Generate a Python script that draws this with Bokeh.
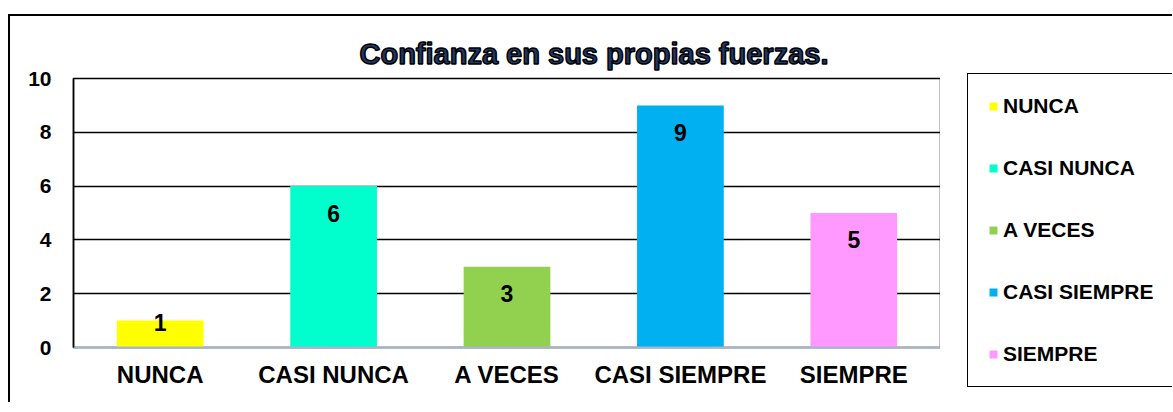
from bokeh.plotting import figure
from bokeh.models import ColumnDataSource, FixedTicker, Legend, LegendItem
from bokeh.core.properties import value
from bokeh.embed import file_html
from bokeh.resources import INLINE

categories = ["NUNCA", "CASI NUNCA", "A VECES", "CASI SIEMPRE", "SIEMPRE"]
counts = [1, 6, 3, 9, 5]
colors = ["#FFFF00", "#00FFCC", "#92D050", "#00B0F0", "#FF99FF"]
y_ticks = [0, 2, 4, 6, 8, 10]
title_text = "Confianza en sus propias fuerzas."

FONT = "Liberation Sans"

label_y = [v - 1 if v > 1 else v * 0.93 for v in counts]
src = ColumnDataSource(dict(cat=categories, val=counts, col=colors,
                            ly=label_y, txt=[str(v) for v in counts]))

p = figure(x_range=categories, y_range=(0, 10), width=932, height=388,
           output_backend="svg", toolbar_location=None,
           min_border_left=63, min_border_right=2,
           min_border_top=62, min_border_bottom=57)
p.styles = {"border-left": "2px solid black", "border-top": "2px solid black",
            "margin-top": "14px", "margin-left": "8px"}

p.title.text = title_text
p.title.text_font = FONT
p.title.text_font_size = "29px"
p.title.text_font_style = "bold"
p.title.text_color = "#1F3864"
p.title.align = "left"
p.title.offset = 286
p.title.standoff = 18
try:
    p.title.text_outline_color = "black"
except Exception:
    pass

p.outline_line_color = "black"
p.outline_line_width = 1.5
p.outline_line_alpha = 1
p.background_fill_color = "white"
p.border_fill_color = "white"

p.vbar(x="cat", top="val", width=0.5, source=src, fill_color="col",
       line_color=None)

p.text(x="cat", y="ly", text="txt", source=src, text_align="center",
       text_baseline="middle", text_font=value(FONT), text_font_size="23px",
       text_font_style="bold", text_color="black")

p.xgrid.grid_line_color = None
p.ygrid.grid_line_color = "black"
p.ygrid.grid_line_width = 1.5
p.yaxis.ticker = FixedTicker(ticks=y_ticks)
p.yaxis.major_tick_line_color = None
p.yaxis.minor_tick_line_color = None
p.yaxis.axis_line_color = "black"
p.yaxis.axis_line_width = 1.5
p.yaxis.major_label_standoff = 16
p.yaxis.major_label_text_font = FONT
p.yaxis.major_label_text_font_size = "21px"
p.yaxis.major_label_text_font_style = "bold"
p.yaxis.major_label_text_color = "black"

p.xaxis.major_tick_line_color = None
p.xaxis.minor_tick_line_color = None
p.xaxis.axis_line_color = "#A8B4CC"
p.xaxis.axis_line_width = 2
p.xaxis.major_label_standoff = 7
p.xaxis.major_label_text_font = FONT
p.xaxis.major_label_text_font_size = "24px"
p.xaxis.major_label_text_font_style = "bold"
p.xaxis.major_label_text_color = "black"

# legend panel (separate root, positioned to the right of the chart)
q = figure(x_range=(0, 1), y_range=(0, 1), width=234, height=388,
           output_backend="svg", toolbar_location=None,
           x_axis_location=None, y_axis_location=None, title=None,
           min_border_left=0, min_border_right=0,
           min_border_top=0, min_border_bottom=0)
q.styles = {"position": "absolute", "left": "938px", "top": "14px",
            "border-top": "2px solid black"}
q.grid.grid_line_color = None
q.outline_line_color = None
q.background_fill_alpha = 0
q.border_fill_alpha = 0
lr = q.vbar(x=[5] * len(categories), top=counts, width=0.5,
            fill_color=colors, line_color=None)

items = [LegendItem(label=c, renderers=[lr], index=i) for i, c in enumerate(categories)]
legend = Legend(items=items, location=(29, 17))
legend.label_text_font = FONT
legend.label_text_font_size = "21px"
legend.label_text_font_style = "bold"
legend.label_text_color = "black"
legend.glyph_width = 10
legend.glyph_height = 10
legend.label_height = 20
legend.label_standoff = 5
legend.spacing = 38
legend.padding = 20
legend.margin = 0
legend.border_line_color = "black"
legend.border_line_width = 1.5
legend.border_line_alpha = 1
legend.background_fill_color = "white"
legend.background_fill_alpha = 1
q.add_layout(legend, "center")

open("out.html", "w").write(file_html([p, q], INLINE))
